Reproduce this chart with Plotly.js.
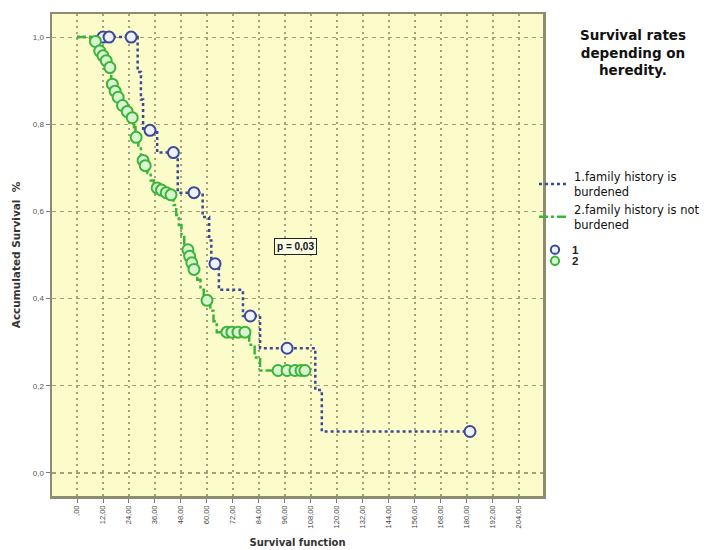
<!DOCTYPE html>
<html><head><meta charset="utf-8">
<script src="https://cdn.plot.ly/plotly-3.0.1.min.js"></script>
<style>html,body{margin:0;padding:0;background:#fff}</style>
</head><body>
<div id="chart" style="width:708px;height:550px"></div>
<script>
// Group 1: family history is burdened (event months and survival after each event)
const burdenedEventMonths = [28, 29.5, 30.5, 37, 46.5, 58, 61, 62, 65.5, 76.6, 84.5, 110, 113];
const burdenedSurvival    = [0.92, 0.857, 0.786, 0.735, 0.643, 0.587, 0.533, 0.48, 0.42, 0.36, 0.286, 0.19, 0.095];
const burdenedCensoredMonths = [12, 14.8, 25, 33.7, 44.5, 54, 63.7, 80, 97, 181.4];

// Group 2: family history is not burdened
const notBurdenedEventMonths = [6, 9.5, 11.2, 12.8, 14.3, 15.8, 17, 18.3, 20, 22, 24.4, 26.3, 27, 28.3, 29.5,
  31, 32.5, 34, 35.5, 38, 40, 42.5, 44.5, 45.8, 47, 48.2, 49.5, 50.5, 51.6, 52.5, 53.5, 55.5, 57, 58.5, 61.5,
  63, 64.5, 79.5, 82, 84.5];
const notBurdenedSurvival = [0.99, 0.968, 0.957, 0.946, 0.93, 0.892, 0.876, 0.862, 0.843, 0.829, 0.815, 0.793, 0.77, 0.748, 0.717,
  0.705, 0.688, 0.671, 0.654, 0.649, 0.643, 0.638, 0.615, 0.592, 0.569, 0.546, 0.523, 0.512, 0.497, 0.482, 0.467, 0.443, 0.42, 0.396, 0.372,
  0.348, 0.323, 0.294, 0.265, 0.235];
const notBurdenedCensoredMonths = [8.5, 10.5, 12, 13.5, 15.2, 16.3, 17.6, 19, 21, 23.2, 25.5, 27.3, 30.5, 31.5, 37, 39,
  41.2, 43.4, 51.2, 52, 53, 54, 60, 69.2, 71.5, 74.3, 77.5, 92.8, 97, 100.6, 103.4, 105.2];

// Axis ticks
const xTickValues = [0, 12, 24, 36, 48, 60, 72, 84, 96, 108, 120, 132, 144, 156, 168, 180, 192, 204];
const xTickLabels = [",00", "12,00", "24,00", "36,00", "48,00", "60,00", "72,00", "84,00", "96,00",
  "108,00", "120,00", "132,00", "144,00", "156,00", "168,00", "180,00", "192,00", "204,00"];
const yTickValues = [0, 0.2, 0.4, 0.6, 0.8, 1.0];
const yTickLabels = ["0,0", "0,2", "0,4", "0,6", "0,8", "1,0"];

const groupNames = ['1.family history is<br>burdened', '2.family history is not<br>burdened'];
const censorKeyLabels = ['1', '2'];
const pValueText = "p = 0,03";

// survival value of a step curve at time t
function survivalAt(times, surv, t) {
  let s = 1;
  for (let i = 0; i < times.length; i++) if (times[i] <= t) s = surv[i];
  return s;
}
function stepCurve(times, surv, censored) {
  const end = Math.max(times[times.length - 1], censored[censored.length - 1]);
  return {
    x: [0, ...times, end],
    y: [1, ...surv, survivalAt(times, surv, end)]
  };
}

const blue = '#3b4a96';
const green = '#3cb43c';
const blueFill = '#eef0fa';
const greenFill = '#d8f5cf';
const font = 'Liberation Sans, Arial, sans-serif';
const wideFont = 'DejaVu Sans, Liberation Sans, sans-serif';

const c1 = stepCurve(burdenedEventMonths, burdenedSurvival, burdenedCensoredMonths);
const c2 = stepCurve(notBurdenedEventMonths, notBurdenedSurvival, notBurdenedCensoredMonths);

const traces = [
  {
    x: c1.x, y: c1.y, mode: 'lines', name: groupNames[0],
    line: {shape: 'hv', color: blue, width: 2.5, dash: 'dot'}, hoverinfo: 'skip'
  },
  {
    x: c2.x, y: c2.y, mode: 'lines', name: groupNames[1],
    line: {shape: 'hv', color: green, width: 2.5, dash: 'dashdot'}, hoverinfo: 'skip'
  },
  {
    x: burdenedCensoredMonths,
    y: burdenedCensoredMonths.map(t => survivalAt(burdenedEventMonths, burdenedSurvival, t)),
    mode: 'markers', name: censorKeyLabels[0], showlegend: false,
    marker: {symbol: 'circle', size: 11, color: blueFill, line: {color: blue, width: 2}}
  },
  {
    x: notBurdenedCensoredMonths,
    y: notBurdenedCensoredMonths.map(t => survivalAt(notBurdenedEventMonths, notBurdenedSurvival, t)),
    mode: 'markers', name: censorKeyLabels[1], showlegend: false,
    marker: {symbol: 'circle', size: 11, color: greenFill, line: {color: green, width: 2}}
  }
];

// compact key for the censoring markers, placed below the legend
const keyX = 1.0244, keyTextX = 1.055;   // paper coordinates right of the plot
const keyY = [0.511, 0.488];
const keyR = 0.0085;
const keyShapes = keyY.map((y, i) => ({
  type: 'circle', xref: 'paper', yref: 'paper',
  x0: keyX - keyR, x1: keyX + keyR, y0: y - keyR * 491 / 482, y1: y + keyR * 491 / 482,
  line: {color: i === 0 ? blue : green, width: 2}, fillcolor: i === 0 ? blueFill : greenFill
}));
const keyLabels = keyY.map((y, i) => ({
  x: keyTextX, y: y, xref: 'paper', yref: 'paper', xanchor: 'left', yanchor: 'middle',
  text: '<b>' + censorKeyLabels[i] + '</b>', showarrow: false,
  font: {family: font, size: 11.5, color: '#222'}
}));

const layout = {
  width: 708, height: 550,
  margin: {l: 52, r: 165, t: 14, b: 54, pad: 0, autoexpand: false},
  paper_bgcolor: '#ffffff',
  plot_bgcolor: '#fcfbca',
  font: {family: font, color: '#333'},
  showlegend: true,
  title: {
    text: '<b>Survival rates<br>depending on<br>heredity.</b>',
    x: 633 / 708, xanchor: 'center', xref: 'container',
    y: 1 - 40 / 550, yanchor: 'top', yref: 'container',
    font: {family: wideFont, size: 13.5, color: '#111'}
  },
  xaxis: {
    range: [-11.54, 215.1],
    tickvals: xTickValues, ticktext: xTickLabels, tickangle: -90,
    tickfont: {family: font, size: 7.5, color: '#444'},
    ticks: 'outside', ticklen: 4, tickcolor: '#777',
    showgrid: true, gridcolor: '#a3a07c', griddash: '2px,4px', gridwidth: 1.2,
    zeroline: false,
    showline: true, mirror: true, linecolor: '#8e8c70', linewidth: 2.5,
    title: {text: '<b>Survival function</b>', font: {family: wideFont, size: 10, color: '#333'}, standoff: 12}
  },
  yaxis: {
    range: [-0.053, 1.053],
    tickvals: yTickValues, ticktext: yTickLabels,
    tickfont: {family: font, size: 8, color: '#555'},
    ticks: 'outside', ticklen: 4, tickcolor: '#777',
    showgrid: true, gridcolor: '#a3a07c', griddash: '4px,4px', gridwidth: 1.2,
    zeroline: false,
    showline: true, mirror: true, linecolor: '#8e8c70', linewidth: 2.5,
    title: {text: '<b>Accumulated Survival  %</b>', font: {family: wideFont, size: 10.5, color: '#333'}, standoff: 10}
  },
  legend: {
    x: 0.9817, y: 0.692, xanchor: 'left', yanchor: 'top',
    bgcolor: 'rgba(0,0,0,0)', borderwidth: 0,
    font: {family: wideFont, size: 11.5, color: '#111'},
    itemwidth: 30, tracegroupgap: 0
  },
  shapes: keyShapes,
  annotations: [{
    x: 101, y: 0.52, xref: 'x', yref: 'y',
    text: '<b>' + pValueText + '</b>', showarrow: false,
    font: {family: font, size: 10, color: '#111'},
    bgcolor: '#fdfce6', bordercolor: '#222', borderwidth: 1, borderpad: 2
  }, ...keyLabels]
};

Plotly.newPlot('chart', traces, layout, {displayModeBar: false, staticPlot: true});
</script>
</body></html>
